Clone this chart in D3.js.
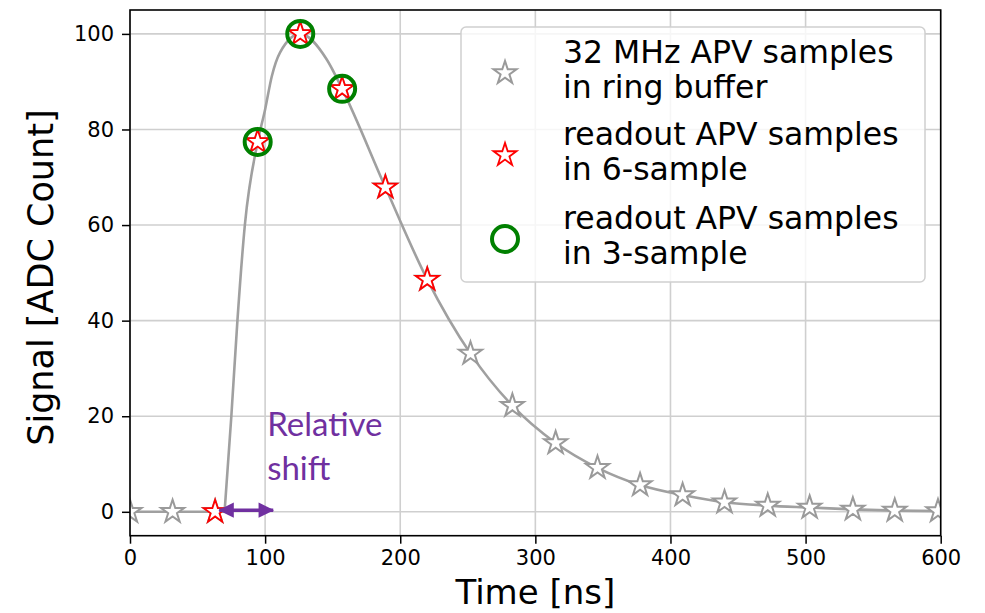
<!DOCTYPE html>
<html>
<head>
<meta charset="utf-8">
<script src="https://cdn.jsdelivr.net/npm/d3@7"></script>
<style>
  body { margin: 0; background: #fff; }
  svg { display: block; font-family: "DejaVu Sans", sans-serif; }
</style>
</head>
<body>
<svg width="985" height="613"></svg>
<script>
// ring buffer samples (32 MHz)
const sampleTimes = [0, 31.5, 63, 94.5, 126, 157, 189, 220, 252, 283, 315, 346, 377.5, 409, 440, 472, 503, 535, 566, 598];
const sampleValues = [0, 0, 0, 77.4, 100, 88.5, 67.9, 48.6, 33.1, 22.2, 14.4, 9.2, 5.6, 3.5, 2.0, 1.3, 0.9, 0.5, 0.25, 0.15];

// 6-sample readout
const sixTimes = [63, 94.5, 126, 157, 189, 220];
const sixValues = [0, 77.4, 100, 88.5, 67.9, 48.6];

// 3-sample readout
const threeTimes = [94.5, 126, 157];
const threeValues = [77.4, 100, 88.5];

// pulse shape curve
const pulseTimes = [0, 70, 75, 79.5, 85, 94.5, 100, 105, 111, 126, 145.5, 157, 189, 220, 252, 283, 315, 346, 377.5, 409, 440, 472, 503, 535, 566, 600];
const pulseValues = [0, 0, 20, 40, 60, 77.4, 84.2, 91.2, 96.1, 100, 94.7, 88.5, 67.9, 48.6, 33.1, 22.2, 14.4, 9.2, 5.6, 3.5, 2.0, 1.3, 0.9, 0.5, 0.25, 0.15];

const xTicks = [0, 100, 200, 300, 400, 500, 600];
const yTicks = [0, 20, 40, 60, 80, 100];

const legendLabels = [
  ["32 MHz APV samples", "in ring buffer"],
  ["readout APV samples", "in 6-sample"],
  ["readout APV samples", "in 3-sample"]
];

const shiftLabel = ["Relative", "shift"];
const shiftRange = [66, 106];

const svg = d3.select("svg");
const margin = { top: 10, right: 44.3, bottom: 77.3, left: 130 };
const width = 985 - margin.left - margin.right;
const height = 613 - margin.top - margin.bottom;

const x = d3.scaleLinear().domain([0, 600]).range([0, width]);
const y = d3.scaleLinear().domain([-5, 105]).range([height, 0]);

const gridColor = "#cfcfcf";
const lineColor = "#a0a0a0";
const purple = "#7030a0";

svg.append("defs").append("clipPath").attr("id", "clip")
  .append("rect").attr("width", width).attr("height", height);

svg.select("defs").append("marker")
  .attr("id", "arrowhead")
  .attr("viewBox", "0 0 10 10")
  .attr("refX", 9.5).attr("refY", 5)
  .attr("markerWidth", 4.6).attr("markerHeight", 4.4)
  .attr("markerUnits", "strokeWidth")
  .attr("orient", "auto-start-reverse")
  .append("path").attr("d", "M0,0 L10,5 L0,10 z").attr("fill", purple);

const g = svg.append("g").attr("transform", `translate(${margin.left},${margin.top})`);

// grid
g.append("g").selectAll("line").data(xTicks).enter().append("line")
  .attr("x1", d => x(d)).attr("x2", d => x(d)).attr("y1", 0).attr("y2", height)
  .attr("stroke", gridColor).attr("stroke-width", 1.6);
g.append("g").selectAll("line").data(yTicks).enter().append("line")
  .attr("y1", d => y(d)).attr("y2", d => y(d)).attr("x1", 0).attr("x2", width)
  .attr("stroke", gridColor).attr("stroke-width", 1.6);

const plot = g.append("g").attr("clip-path", "url(#clip)");

// pulse curve: flat part, then smooth rise/decay
const pulse = pulseTimes.map((t, i) => [t, pulseValues[i]]);
const flat = pulse.filter(d => d[0] <= 70);
const shaped = pulse.filter(d => d[0] >= 70);
plot.append("path").datum(flat)
  .attr("d", d3.line().x(d => x(d[0])).y(d => y(d[1])))
  .attr("fill", "none").attr("stroke", lineColor).attr("stroke-width", 2.6);
plot.append("path").datum(shaped)
  .attr("d", d3.line().curve(d3.curveMonotoneX).x(d => x(d[0])).y(d => y(d[1])))
  .attr("fill", "none").attr("stroke", lineColor).attr("stroke-width", 2.6);

const star = d3.symbol().type(d3.symbolStar).size(165);

plot.selectAll(".ring").data(sampleTimes).enter().append("path")
  .attr("class", "ring")
  .attr("d", star)
  .attr("transform", (d, i) => `translate(${x(d)},${y(sampleValues[i])})`)
  .attr("fill", "#fff").attr("stroke", "#9a9a9a").attr("stroke-width", 2);

plot.selectAll(".six").data(sixTimes).enter().append("path")
  .attr("class", "six")
  .attr("d", star)
  .attr("transform", (d, i) => `translate(${x(d)},${y(sixValues[i])})`)
  .attr("fill", "#fff").attr("stroke", "#ff0000").attr("stroke-width", 1.8);

plot.selectAll(".three").data(threeTimes).enter().append("circle")
  .attr("class", "three")
  .attr("cx", d => x(d)).attr("cy", (d, i) => y(threeValues[i]))
  .attr("r", 13)
  .attr("fill", "none").attr("stroke", "#008000").attr("stroke-width", 4);

// axes
const xAxis = d3.axisBottom(x).tickValues(xTicks).tickSize(8).tickPadding(6);
const yAxis = d3.axisLeft(y).tickValues(yTicks).tickSize(8).tickPadding(8);

const gx = g.append("g").attr("transform", `translate(0,${height})`).call(xAxis);
const gy = g.append("g").call(yAxis);
[gx, gy].forEach(a => {
  a.select(".domain").remove();
  a.selectAll(".tick line").attr("stroke", "#000").attr("stroke-width", 1.5);
  a.selectAll(".tick text").attr("font-family", "DejaVu Sans").attr("font-size", 21).attr("fill", "#000");
});

g.append("rect").attr("width", width).attr("height", height)
  .attr("fill", "none").attr("stroke", "#000").attr("stroke-width", 1.6);

// axis labels
svg.append("text")
  .attr("x", margin.left + width / 2).attr("y", 604)
  .attr("text-anchor", "middle").attr("font-size", 34)
  .text("Time [ns]");

svg.append("text")
  .attr("transform", `translate(53,${margin.top + y(49)}) rotate(-90)`)
  .attr("text-anchor", "middle").attr("font-size", 35)
  .text("Signal [ADC Count]");

// legend
const legend = g.append("g").attr("transform", "translate(331,17)");
legend.append("rect")
  .attr("width", 464).attr("height", 255).attr("rx", 5)
  .attr("fill", "#fff").attr("fill-opacity", 0.8)
  .attr("stroke", "#d0d0d0").attr("stroke-width", 1.5);

const rowY = [46, 128, 212];
legendLabels.forEach((lines, i) => {
  if (i < 2) {
    legend.append("path").attr("d", star)
      .attr("transform", `translate(44,${rowY[i]})`)
      .attr("fill", "#fff")
      .attr("stroke", i === 0 ? "#9a9a9a" : "#ff0000")
      .attr("stroke-width", i === 0 ? 2 : 1.8);
  } else {
    legend.append("circle").attr("cx", 44).attr("cy", rowY[i]).attr("r", 13)
      .attr("fill", "none").attr("stroke", "#008000").attr("stroke-width", 4);
  }
  lines.forEach((s, j) => {
    legend.append("text")
      .attr("x", 102).attr("y", rowY[i] - 10 + j * 35)
      .attr("font-size", 31.5).attr("fill", "#000")
      .text(s);
  });
});

// relative shift annotation
g.append("line")
  .attr("x1", x(shiftRange[0])).attr("x2", x(shiftRange[1]))
  .attr("y1", y(0.35)).attr("y2", y(0.35))
  .attr("stroke", purple).attr("stroke-width", 3.5)
  .attr("marker-start", "url(#arrowhead)").attr("marker-end", "url(#arrowhead)");

shiftLabel.forEach((s, j) => {
  g.append("text")
    .attr("x", x(101.5)).attr("y", y(15.8) + j * 43.5)
    .attr("font-family", "Lato, 'Open Sans', sans-serif")
    .attr("font-size", 33).attr("fill", purple)
    .text(s);
});
</script>
</body>
</html>
